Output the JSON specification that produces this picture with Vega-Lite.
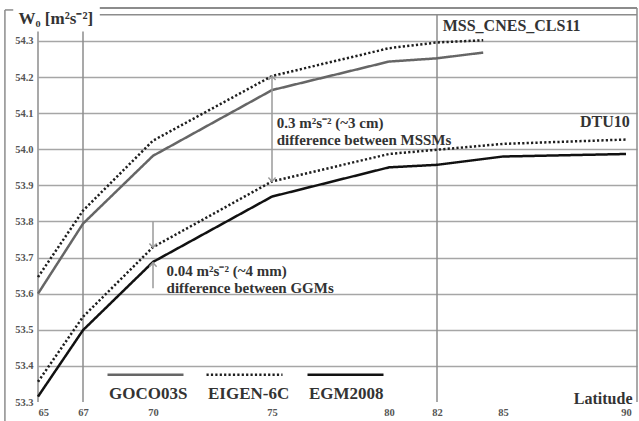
{
  "$schema": "https://vega.github.io/schema/vega-lite/v6.json",
  "width": 599,
  "height": 394,
  "autosize": {"type": "none"},
  "padding": {"left": 38, "top": 8, "right": 2, "bottom": 19},
  "background": "white",
  "config": {
    "view": {"stroke": null},
    "font": "Liberation Serif",
    "text": {"font": "Liberation Serif", "fontWeight": "bold", "color": "#333333"}
  },
  "layer": [
    {
      "data": {"values": [{}]},
      "mark": {"type": "rule", "color": "#8c8c8c", "strokeWidth": 1.5},
      "encoding": {"x": {"datum": 65}, "y": {"datum": 53.3}, "y2": {"datum": 54.326}}
    },
    {
      "data": {"values": [{}]},
      "mark": {"type": "rule", "color": "#8c8c8c", "strokeWidth": 1.5},
      "encoding": {"x": {"datum": 67}, "y": {"datum": 53.3}, "y2": {"datum": 54.326}}
    },
    {
      "data": {"values": [{}]},
      "mark": {"type": "rule", "color": "#8c8c8c", "strokeWidth": 1.5},
      "encoding": {"x": {"datum": 82}, "y": {"datum": 53.3}, "y2": {"datum": 54.373}}
    },
    {
      "data": {"values": [{}]},
      "mark": {"type": "rule", "color": "#8c8c8c", "strokeWidth": 1.5},
      "encoding": {"x": {"datum": 63.53}, "y": {"datum": 53.247}, "y2": {"datum": 54.386}}
    },
    {
      "data": {"values": [{}]},
      "mark": {"type": "rule", "color": "#8c8c8c", "strokeWidth": 1.5},
      "encoding": {"x": {"datum": 63.53}, "x2": {"datum": 63.9}, "y": {"datum": 54.386}}
    },
    {
      "data": {"values": [{}]},
      "mark": {"type": "rule", "color": "#8c8c8c", "strokeWidth": 1.8},
      "encoding": {"x": {"datum": 67.72}, "x2": {"datum": 90.43}, "y": {"datum": 54.3914}}
    },
    {
      "data": {"values": [{}]},
      "mark": {"type": "rule", "color": "#8c8c8c", "strokeWidth": 1.5},
      "encoding": {"x": {"datum": 67.72}, "x2": {"datum": 90.43}, "y": {"datum": 54.373}}
    },
    {
      "data": {"values": [{}]},
      "mark": {"type": "rule", "color": "#8c8c8c", "strokeWidth": 1.5},
      "encoding": {"x": {"datum": 90.43}, "y": {"datum": 53.3}, "y2": {"datum": 54.3914}}
    },
    {
      "data": {
        "values": [
          {"mss": "MSS_CNES_CLS11", "model": "GOCO03S", "lat": 65, "W0": 53.600},
          {"mss": "MSS_CNES_CLS11", "model": "GOCO03S", "lat": 67, "W0": 53.794},
          {"mss": "MSS_CNES_CLS11", "model": "GOCO03S", "lat": 70, "W0": 53.982},
          {"mss": "MSS_CNES_CLS11", "model": "GOCO03S", "lat": 75, "W0": 54.164},
          {"mss": "MSS_CNES_CLS11", "model": "GOCO03S", "lat": 80, "W0": 54.243},
          {"mss": "MSS_CNES_CLS11", "model": "GOCO03S", "lat": 82, "W0": 54.252},
          {"mss": "MSS_CNES_CLS11", "model": "GOCO03S", "lat": 84.1, "W0": 54.268},
          {"mss": "MSS_CNES_CLS11", "model": "EIGEN-6C", "lat": 65, "W0": 53.646},
          {"mss": "MSS_CNES_CLS11", "model": "EIGEN-6C", "lat": 67, "W0": 53.830},
          {"mss": "MSS_CNES_CLS11", "model": "EIGEN-6C", "lat": 70, "W0": 54.024},
          {"mss": "MSS_CNES_CLS11", "model": "EIGEN-6C", "lat": 75, "W0": 54.203},
          {"mss": "MSS_CNES_CLS11", "model": "EIGEN-6C", "lat": 80, "W0": 54.280},
          {"mss": "MSS_CNES_CLS11", "model": "EIGEN-6C", "lat": 82, "W0": 54.296},
          {"mss": "MSS_CNES_CLS11", "model": "EIGEN-6C", "lat": 84.1, "W0": 54.302},
          {"mss": "DTU10", "model": "EIGEN-6C", "lat": 65, "W0": 53.356},
          {"mss": "DTU10", "model": "EIGEN-6C", "lat": 67, "W0": 53.536},
          {"mss": "DTU10", "model": "EIGEN-6C", "lat": 70, "W0": 53.729},
          {"mss": "DTU10", "model": "EIGEN-6C", "lat": 75, "W0": 53.911},
          {"mss": "DTU10", "model": "EIGEN-6C", "lat": 80, "W0": 53.987},
          {"mss": "DTU10", "model": "EIGEN-6C", "lat": 85, "W0": 54.015},
          {"mss": "DTU10", "model": "EIGEN-6C", "lat": 90, "W0": 54.027},
          {"mss": "DTU10", "model": "EGM2008", "lat": 65, "W0": 53.315},
          {"mss": "DTU10", "model": "EGM2008", "lat": 67, "W0": 53.499},
          {"mss": "DTU10", "model": "EGM2008", "lat": 70, "W0": 53.688},
          {"mss": "DTU10", "model": "EGM2008", "lat": 75, "W0": 53.869},
          {"mss": "DTU10", "model": "EGM2008", "lat": 80, "W0": 53.950},
          {"mss": "DTU10", "model": "EGM2008", "lat": 82, "W0": 53.957},
          {"mss": "DTU10", "model": "EGM2008", "lat": 85, "W0": 53.980},
          {"mss": "DTU10", "model": "EGM2008", "lat": 90, "W0": 53.987}
        ]
      },
      "mark": {"type": "line", "strokeWidth": 2.5, "strokeCap": "butt"},
      "encoding": {
        "x": {
          "field": "lat",
          "type": "quantitative",
          "scale": {
            "domain": [65, 67, 70, 75, 80, 82, 85, 90, 90.43],
            "range": [0, 45, 115, 234, 351, 399, 465, 588, 599],
            "zero": false,
            "nice": false
          },
          "axis": {
            "values": [65, 67, 70, 75, 80, 82, 85, 90],
            "tickCount": 20,
            "labelOverlap": false,
            "domain": false,
            "ticks": false,
            "grid": false,
            "labelFont": "Liberation Serif",
            "labelFontWeight": "bold",
            "labelFontSize": 10.5,
            "labelColor": "#555555",
            "labelPadding": 5,
            "title": "Latitude",
            "titleFont": "Liberation Serif",
            "titleFontWeight": "bold",
            "titleFontSize": 16,
            "titleColor": "#333333",
            "titleAlign": "right",
            "titleBaseline": "middle",
            "titleX": 594,
            "titleY": -3.5
          }
        },
        "y": {
          "field": "W0",
          "type": "quantitative",
          "scale": {"domain": [53.3, 54.3914], "zero": false, "nice": false},
          "axis": {
            "values": [53.3, 53.4, 53.5, 53.6, 53.7, 53.8, 53.9, 54.0, 54.1, 54.2, 54.3],
            "tickCount": 20,
            "format": ".1f",
            "labelOverlap": false,
            "domain": false,
            "ticks": false,
            "grid": true,
            "gridColor": "#a6a6a6",
            "gridWidth": 1.5,
            "gridOpacity": {"condition": {"test": "datum.value < 53.35", "value": 0}, "value": 1},
            "labelFont": "Liberation Serif",
            "labelFontWeight": "bold",
            "labelFontSize": 10.5,
            "labelColor": "#555555",
            "labelPadding": 5,
            "title": "W₀ [m²s⁻²]",
            "titleFont": "Liberation Serif",
            "titleFontWeight": "bold",
            "titleFontSize": 17,
            "titleColor": "#333333",
            "titleAngle": 0,
            "titleAlign": "left",
            "titleBaseline": "middle",
            "titleX": -20,
            "titleY": 10
          }
        },
        "color": {
          "field": "model",
          "type": "nominal",
          "scale": {"domain": ["GOCO03S", "EIGEN-6C", "EGM2008"], "range": ["#666666", "#1e1e1e", "#111111"]},
          "legend": {
            "title": null,
            "orient": "none",
            "direction": "horizontal",
            "legendX": 68,
            "legendY": 327,
            "symbolType": "stroke",
            "symbolSize": 5776,
            "symbolStrokeWidth": 2.5,
            "labelOffset": -76,
            "labelBaseline": "middle",
            "labelExpr": "['', '', datum.label]",
            "labelFont": "Liberation Serif",
            "labelFontWeight": "bold",
            "labelFontSize": 17,
            "labelColor": "#333333",
            "columnPadding": 12,
            "padding": 0
          }
        },
        "strokeDash": {
          "field": "model",
          "type": "nominal",
          "scale": {"domain": ["GOCO03S", "EIGEN-6C", "EGM2008"], "range": [[1, 0], [2.2, 2.2], [1, 0]]},
          "legend": {
            "title": null,
            "orient": "none",
            "direction": "horizontal",
            "legendX": 68,
            "legendY": 327,
            "symbolType": "stroke",
            "symbolSize": 5776,
            "symbolStrokeWidth": 2.5,
            "labelOffset": -76,
            "labelBaseline": "middle",
            "labelExpr": "['', '', datum.label]",
            "labelFont": "Liberation Serif",
            "labelFontWeight": "bold",
            "labelFontSize": 17,
            "labelColor": "#333333",
            "columnPadding": 12,
            "padding": 0
          }
        },
        "detail": {"field": "mss", "type": "nominal"}
      }
    },
    {
      "data": {"values": [{}]},
      "mark": {"type": "rule", "color": "#9a9a9a", "strokeWidth": 1.5},
      "encoding": {"x": {"datum": 75}, "y": {"datum": 54.203}, "y2": {"datum": 53.911}}
    },
    {
      "data": {"values": [{}]},
      "mark": {"type": "point", "shape": "M-0.9,1L0,0L0.9,1", "filled": false, "color": "#9a9a9a", "strokeWidth": 1.5, "size": 64, "opacity": 1},
      "encoding": {"x": {"datum": 75}, "y": {"datum": 54.203}}
    },
    {
      "data": {"values": [{}]},
      "mark": {"type": "point", "shape": "M-0.9,-1L0,0L0.9,-1", "filled": false, "color": "#9a9a9a", "strokeWidth": 1.5, "size": 64, "opacity": 1},
      "encoding": {"x": {"datum": 75}, "y": {"datum": 53.911}}
    },
    {
      "data": {"values": [{}]},
      "mark": {"type": "rule", "color": "#9a9a9a", "strokeWidth": 1.5},
      "encoding": {"x": {"datum": 70}, "y": {"datum": 53.8}, "y2": {"datum": 53.728}}
    },
    {
      "data": {"values": [{}]},
      "mark": {"type": "point", "shape": "M-0.9,-1L0,0L0.9,-1", "filled": false, "color": "#9a9a9a", "strokeWidth": 1.5, "size": 64, "opacity": 1},
      "encoding": {"x": {"datum": 70}, "y": {"datum": 53.728}}
    },
    {
      "data": {"values": [{}]},
      "mark": {"type": "rule", "color": "#9a9a9a", "strokeWidth": 1.5},
      "encoding": {"x": {"datum": 70}, "y": {"datum": 53.615}, "y2": {"datum": 53.686}}
    },
    {
      "data": {"values": [{}]},
      "mark": {"type": "point", "shape": "M-0.9,1L0,0L0.9,1", "filled": false, "color": "#9a9a9a", "strokeWidth": 1.5, "size": 64, "opacity": 1},
      "encoding": {"x": {"datum": 70}, "y": {"datum": 53.686}}
    },
    {
      "data": {"values": [{}]},
      "mark": {"type": "text", "align": "left", "baseline": "middle", "fontSize": 16},
      "encoding": {"x": {"datum": 82.26}, "y": {"datum": 54.342}, "text": {"value": "MSS_CNES_CLS11"}}
    },
    {
      "data": {"values": [{}]},
      "mark": {"type": "text", "align": "right", "baseline": "middle", "fontSize": 16},
      "encoding": {"x": {"datum": 90.15}, "y": {"datum": 54.076}, "text": {"value": "DTU10"}}
    },
    {
      "data": {"values": [{}]},
      "mark": {"type": "text", "align": "left", "baseline": "middle", "fontSize": 15},
      "encoding": {"x": {"datum": 75.2}, "y": {"datum": 54.074}, "text": {"value": "0.3 m²s⁻² (~3 cm)"}}
    },
    {
      "data": {"values": [{}]},
      "mark": {"type": "text", "align": "left", "baseline": "middle", "fontSize": 15},
      "encoding": {"x": {"datum": 75.2}, "y": {"datum": 54.026}, "text": {"value": "difference between MSSMs"}}
    },
    {
      "data": {"values": [{}]},
      "mark": {"type": "text", "align": "left", "baseline": "middle", "fontSize": 15},
      "encoding": {"x": {"datum": 70.57}, "y": {"datum": 53.663}, "text": {"value": "0.04 m²s⁻² (~4 mm)"}}
    },
    {
      "data": {"values": [{}]},
      "mark": {"type": "text", "align": "left", "baseline": "middle", "fontSize": 15},
      "encoding": {"x": {"datum": 70.57}, "y": {"datum": 53.617}, "text": {"value": "difference between GGMs"}}
    }
  ]
}
